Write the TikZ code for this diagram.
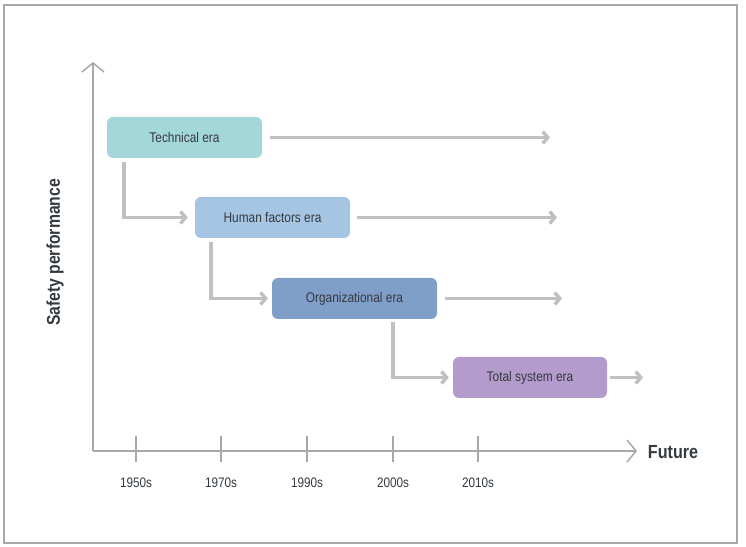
\documentclass[tikz,border=0pt]{standalone}
\usepackage{fontspec}
\setmainfont[FakeStretch=0.85]{Liberation Sans}
\usetikzlibrary{arrows.meta}
\definecolor{techcol}{HTML}{A3D7D9}
\definecolor{humancol}{HTML}{A6C5E3}
\definecolor{orgcol}{HTML}{809FC8}
\definecolor{totalcol}{HTML}{B39BCB}
\definecolor{flowcol}{HTML}{C0C0C0}
\definecolor{axiscol}{HTML}{A8A8A8}
\definecolor{textcol}{HTML}{353A40}
\tikzset{
    every node/.style={align=center,},
    era/.style={rectangle,rounded corners=6pt,minimum height=41pt,inner sep=0pt,text=textcol,font=\fontsize{14}{16}\selectfont,},
    decade/.style={text=textcol,font=\fontsize{13.8}{16}\selectfont,},
    flow/.style={draw=flowcol,line width=3.5pt,-{Straight Barb[length=5pt,width=12pt]},},
    axis/.style={draw=axiscol,line width=1.5pt,-{Straight Barb[length=9pt,width=22pt]},},
    tick/.style={draw=axiscol,line width=1.2pt,},
    frame/.style={draw=axiscol,line width=1.5pt,},
}

\begin{document}
\begin{tikzpicture}[x=1pt,y=1pt]
        \useasboundingbox (0,0) rectangle (746,546);
        \draw[frame] (4,3) rectangle (737,541);

        \node[era, fill=techcol, minimum width=155pt] (tech) at (184.5,408.5) {Technical era};
        \node[era, fill=humancol, minimum width=155pt] (human) at (272.5,328.5) {Human factors era};
        \node[era, fill=orgcol, minimum width=165pt] (org) at (354.5,247.5) {Organizational era};
        \node[era, fill=totalcol, minimum width=154pt] (total) at (530,168.5) {Total system era};

        \coordinate (origin) at (93,95);
        \coordinate (ytop) at (93,484);
        \coordinate (xend) at (637,95);

        \coordinate (techend) at (550,408.5);
        \coordinate (humanend) at (557,328.5);
        \coordinate (orgend) at (562,247.5);
        \coordinate (totalend) at (643,168.5);

        \node[decade] (y1950) at (136,63) {1950s};
        \node[decade] (y1970) at (221,63) {1970s};
        \node[decade] (y1990) at (307,63) {1990s};
        \node[decade] (y2000) at (393,63) {2000s};
        \node[decade] (y2010) at (478,63) {2010s};

        \node[text=textcol, font=\fontsize{19}{21}\selectfont\bfseries] (future) at (673,94) {Future};
        \node[text=textcol, font=\fontsize{18.5}{20}\selectfont\bfseries, rotate=90] (safety) at (55,293.5) {Safety performance};

        \draw[axis] (origin) -- (ytop);
        \draw[axis] (origin) -- (xend);
        \draw[tick] (136,84) -- (136,110);
        \draw[tick] (221,84) -- (221,110);
        \draw[tick] (307,84) -- (307,110);
        \draw[tick] (393,84) -- (393,110);
        \draw[tick] (478,84) -- (478,110);

        \draw[flow, shorten <=8pt] (tech) -- (techend);
        \draw[flow, shorten <=7pt] (human) -- (humanend);
        \draw[flow, shorten <=8pt] (org) -- (orgend);
        \draw[flow, shorten <=3pt] (total) -- (totalend);

        \draw[flow, shorten <=4pt, shorten >=7pt] ([xshift=17pt]tech.south west) |- (human.west);
        \draw[flow, shorten <=4pt, shorten >=4pt] ([xshift=16pt]human.south west) |- (org.west);
        \draw[flow, shorten <=3pt, shorten >=4pt] ([xshift=121pt]org.south west) |- (total.west);
    \end{tikzpicture}
\end{document}
